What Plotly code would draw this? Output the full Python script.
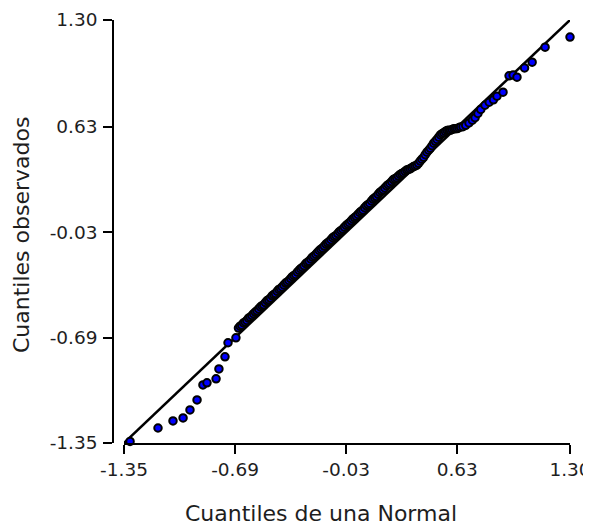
import plotly.graph_objects as go

lower_x = [-1.314, -1.148, -1.059, -0.999, -0.958, -0.916, -0.881, -0.857, -0.803, -0.786,
           -0.750, -0.732, -0.685]
lower_y = [-1.340, -1.256, -1.212, -1.193, -1.143, -1.080, -0.986, -0.973, -0.948, -0.886,
           -0.810, -0.722, -0.691]

band_x = [
    -0.67, -0.66, -0.65, -0.64, -0.63, -0.62, -0.61, -0.60, -0.59, -0.58,
    -0.57, -0.56, -0.55, -0.54, -0.53, -0.52, -0.51, -0.50, -0.49, -0.48,
    -0.47, -0.46, -0.45, -0.44, -0.43, -0.42, -0.41, -0.40, -0.39, -0.38,
    -0.37, -0.36, -0.35, -0.34, -0.33, -0.32, -0.31, -0.30, -0.29, -0.28,
    -0.27, -0.26, -0.25, -0.24, -0.23, -0.22, -0.21, -0.20, -0.19, -0.18,
    -0.17, -0.16, -0.15, -0.14, -0.13, -0.12, -0.11, -0.10, -0.09, -0.08,
    -0.07, -0.06, -0.05, -0.04, -0.03, -0.02, -0.01, 0.00, 0.01, 0.02,
    0.03, 0.04, 0.05, 0.06, 0.07, 0.08, 0.09, 0.10, 0.11, 0.12,
    0.13, 0.14, 0.15, 0.16, 0.17, 0.18, 0.19, 0.20, 0.21, 0.22,
    0.23, 0.24, 0.25, 0.26, 0.27, 0.28, 0.29, 0.30, 0.31, 0.32,
    0.33, 0.34, 0.35, 0.36, 0.37, 0.38, 0.39, 0.40, 0.41, 0.42,
    0.43, 0.44, 0.45, 0.46, 0.47, 0.48, 0.49, 0.50, 0.51, 0.52,
    0.53, 0.54, 0.55, 0.56, 0.57, 0.58, 0.59, 0.60, 0.61, 0.62,
    0.63, 0.64, 0.65,
]
band_y = [
    -0.630, -0.618, -0.612, -0.598, -0.592, -0.582, -0.568, -0.562, -0.552, -0.540,
    -0.530, -0.522, -0.510, -0.498, -0.490, -0.484, -0.470, -0.458, -0.452, -0.442,
    -0.428, -0.420, -0.414, -0.400, -0.388, -0.382, -0.372, -0.360, -0.348, -0.342,
    -0.332, -0.320, -0.308, -0.300, -0.294, -0.280, -0.268, -0.258, -0.250, -0.240,
    -0.226, -0.218, -0.212, -0.198, -0.186, -0.178, -0.168, -0.156, -0.144, -0.136,
    -0.128, -0.116, -0.104, -0.096, -0.088, -0.076, -0.064, -0.056, -0.050, -0.038,
    -0.026, -0.018, -0.010, 0.002, 0.014, 0.022, 0.030, 0.042, 0.054, 0.062,
    0.070, 0.082, 0.094, 0.102, 0.110, 0.124, 0.136, 0.144, 0.152, 0.166,
    0.178, 0.186, 0.194, 0.208, 0.220, 0.228, 0.236, 0.248, 0.260, 0.268,
    0.276, 0.288, 0.300, 0.306, 0.312, 0.322, 0.332, 0.338, 0.343, 0.352,
    0.360, 0.364, 0.368, 0.375, 0.382, 0.386, 0.391, 0.402, 0.416, 0.428,
    0.440, 0.456, 0.472, 0.484, 0.496, 0.512, 0.528, 0.540, 0.552, 0.566,
    0.580, 0.588, 0.594, 0.602, 0.608, 0.609, 0.610, 0.614, 0.619, 0.619,
    0.620, 0.625, 0.630,
]

upper_x = [0.664, 0.680, 0.700, 0.720, 0.736, 0.753, 0.770, 0.795, 0.820, 0.845,
           0.866, 0.902, 0.938, 0.962, 0.985, 1.030, 1.075, 1.152, 1.300]
upper_y = [0.632, 0.640, 0.655, 0.672, 0.688, 0.715, 0.740, 0.766, 0.785, 0.800,
           0.823, 0.848, 0.950, 0.955, 0.942, 1.000, 1.036, 1.130, 1.193]

normal_q = lower_x + band_x + upper_x
observed_q = lower_y + band_y + upper_y

ref_line = [-1.35, 1.30]
tick_vals = [-1.35, -0.69, -0.03, 0.63, 1.30]
tick_text = ["-1.35", "-0.69", "-0.03", "0.63", "1.30"]

FONT = "DejaVu Sans, Verdana, sans-serif"
TXT = "#1e1e1e"

# The page body has an 8px margin, so the figure is sized/offset to compensate.
OFF = 8
PLOT_L, PLOT_R, PLOT_T, PLOT_B = 113, 570, 20, 443
W, H = 591 - OFF, 530 - OFF

fig = go.Figure()
fig.add_trace(go.Scatter(
    x=ref_line, y=ref_line, mode="lines",
    line=dict(color="black", width=2.5), showlegend=False, hoverinfo="skip",
))
fig.add_trace(go.Scatter(
    x=normal_q, y=observed_q, mode="markers",
    marker=dict(size=7.5, color="#0000FF", line=dict(color="black", width=2)),
    showlegend=False, cliponaxis=False,
))

axis_common = dict(
    showgrid=False, zeroline=False, showline=True, linecolor="black", linewidth=1.5,
    ticks="outside", ticklen=9, tickwidth=1.5, tickcolor="black",
    tickfont=dict(family=FONT, size=18.5, color=TXT),
    tickvals=tick_vals, ticktext=tick_text,
    range=[-1.35, 1.30], mirror=False, automargin=False,
)

pw = PLOT_R - PLOT_L
ph = PLOT_B - PLOT_T

fig.update_layout(
    width=W, height=H,
    margin=dict(l=PLOT_L - OFF, r=591 - PLOT_R, t=PLOT_T - OFF, b=530 - PLOT_B, pad=0),
    plot_bgcolor="white", paper_bgcolor="white",
    xaxis=dict(**axis_common, domain=[11 / pw, 1]),
    yaxis=dict(**axis_common, anchor="free", position=0, ticklabelstandoff=2),
    annotations=[
        dict(text="Cuantiles de una Normal", xref="paper", yref="paper",
             x=(321 - PLOT_L) / pw, y=(PLOT_B - 514) / ph, xanchor="center", yanchor="middle",
             showarrow=False, font=dict(family=FONT, size=22, color=TXT)),
        dict(text="Cuantiles observados", xref="paper", yref="paper",
             x=(22 - PLOT_L) / pw, y=(PLOT_B - 235) / ph, xanchor="center", yanchor="middle",
             textangle=-90, showarrow=False, font=dict(family=FONT, size=22, color=TXT)),
    ],
)

fig.write_html("out.html")
